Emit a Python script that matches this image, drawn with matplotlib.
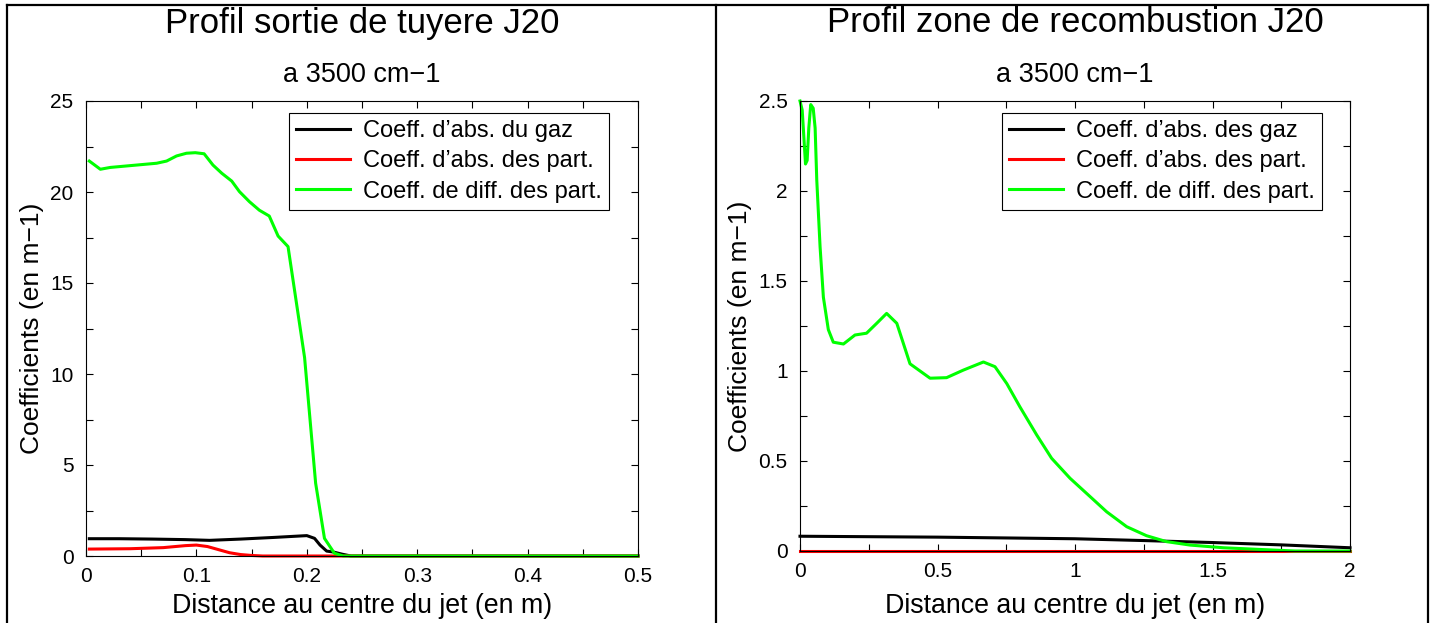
import matplotlib
matplotlib.use('Agg')
from matplotlib import pyplot as plt
from matplotlib.lines import Line2D
from matplotlib.ticker import MultipleLocator, FormatStrFormatter

plt.rcParams['font.family'] = ['Liberation Sans', 'DejaVu Sans']

# Left panel: nozzle exit profile
xl_gaz = [0.003, 0.03, 0.06, 0.09, 0.112, 0.14, 0.17, 0.2, 0.207, 0.212, 0.218, 0.224, 0.232, 0.24, 0.3, 0.4, 0.5]
yl_gaz = [0.95, 0.95, 0.93, 0.9, 0.86, 0.93, 1.02, 1.12, 0.97, 0.6, 0.27, 0.22, 0.1, 0.0, 0.0, 0.0, 0.0]
xl_part = [0.003, 0.04, 0.07, 0.09, 0.1, 0.11, 0.12, 0.13, 0.14, 0.15, 0.16, 0.5]
yl_part = [0.38, 0.4, 0.46, 0.57, 0.6, 0.52, 0.35, 0.18, 0.08, 0.03, 0.0, 0.0]
xl_diff = [0.003, 0.013, 0.022, 0.064, 0.073, 0.082, 0.091, 0.099, 0.107, 0.115, 0.123, 0.132,
           0.139, 0.148, 0.157, 0.166, 0.174, 0.183, 0.198, 0.208, 0.216, 0.225, 0.233, 0.5]
yl_diff = [21.7, 21.25, 21.35, 21.58, 21.7, 21.98, 22.13, 22.16, 22.1, 21.48, 21.03, 20.6,
           20.02, 19.47, 19.0, 18.68, 17.58, 17.0, 10.9, 4.0, 0.97, 0.15, 0.0, 0.0]

# Right panel: afterburning zone profile
xr_gaz = [0.0, 0.5, 1.0, 1.25, 1.5, 1.75, 2.0]
yr_gaz = [0.082, 0.077, 0.068, 0.058, 0.047, 0.034, 0.018]
xr_part = [0.0, 2.0]
yr_part = [0.0, 0.0]
xr_diff = [0.0, 0.008, 0.02, 0.026, 0.032, 0.039, 0.048, 0.055, 0.061, 0.073, 0.085, 0.103, 0.121,
           0.158, 0.2, 0.242, 0.279, 0.315, 0.352, 0.4, 0.473, 0.533, 0.594, 0.667, 0.709, 0.752,
           0.8, 0.861, 0.915, 0.982, 1.055, 1.115, 1.188, 1.26, 1.333, 1.418, 1.54, 1.71, 1.8, 2.0]
yr_diff = [2.5, 2.45, 2.15, 2.17, 2.35, 2.48, 2.46, 2.35, 2.06, 1.69, 1.41, 1.23, 1.16,
           1.15, 1.2, 1.21, 1.265, 1.32, 1.265, 1.04, 0.96, 0.963, 1.005, 1.05, 1.024, 0.93,
           0.8, 0.644, 0.515, 0.404, 0.302, 0.218, 0.135, 0.085, 0.052, 0.033, 0.018, 0.006, 0.0, 0.0]

W, H = 1431, 623
fig = plt.figure(figsize=(W / 100, H / 100), dpi=100)

def px(x0, y0, x1, y1):
    return [x0 / W, 1 - y1 / H, (x1 - x0) / W, (y1 - y0) / H]

panels = [
    dict(rect=px(86, 101, 638, 556), xs=(xl_gaz, xl_part, xl_diff), ys=(yl_gaz, yl_part, yl_diff),
         xlim=0.5, xmaj=0.1, xmin=0.05, ylim=25, ymaj=5, ymin=2.5,
         title='Profil sortie de tuyere J20', gaz='Coeff. d\u2019abs. du gaz',
         leg=((609 - 86) / 552, (556 - 113) / 455), ylab_x=32),
    dict(rect=px(800, 101, 1350, 551), xs=(xr_gaz, xr_part, xr_diff), ys=(yr_gaz, yr_part, yr_diff),
         xlim=2, xmaj=0.5, xmin=0.25, ylim=2.5, ymaj=0.5, ymin=0.25,
         title='Profil zone de recombustion J20', gaz='Coeff. d\u2019abs. des gaz',
         leg=((1322 - 800) / 550, (551 - 113) / 450), ylab_x=740),
]

for p in panels:
    ax = fig.add_axes(p['rect'])
    labels = [p['gaz'], 'Coeff. d\u2019abs. des part.', 'Coeff. de diff. des part.']
    for x, y, c, lab in zip(p['xs'], p['ys'], ['black', '#ff0000', '#00ff00'], labels):
        ax.plot(x, y, color=c, lw=2.2, label=lab, clip_on=False)
    ax.set_xlim(0, p['xlim'])
    ax.set_ylim(0, p['ylim'])
    ax.xaxis.set_major_locator(MultipleLocator(p['xmaj']))
    ax.xaxis.set_minor_locator(MultipleLocator(p['xmin']))
    ax.yaxis.set_major_locator(MultipleLocator(p['ymaj']))
    ax.yaxis.set_minor_locator(MultipleLocator(p['ymin']))
    ax.xaxis.set_major_formatter(FormatStrFormatter('%g'))
    ax.yaxis.set_major_formatter(FormatStrFormatter('%g'))
    ax.tick_params(which='both', direction='in', top=True, right=True, length=5, width=0.8,
                   labelsize=15)
    ax.tick_params(axis='x', pad=8)
    ax.tick_params(axis='y', pad=9)
    for s in ax.spines.values():
        s.set_linewidth(0.8)
    leg = ax.legend(loc='upper right', bbox_to_anchor=p['leg'], borderaxespad=0, fontsize=17,
                    handlelength=2.3, handletextpad=0.55, labelspacing=0.35, borderpad=0.3,
                    fancybox=False, framealpha=1)
    leg.get_frame().set_edgecolor('black')
    leg.get_frame().set_linewidth(0.8)

    r = p['rect']
    cx = r[0] + r[2] / 2
    fig.text(cx, 1 - 23 / H, p['title'], ha='center', va='center', fontsize=25)
    fig.text(cx, 1 - 75 / H, 'a 3500 cm\u22121', ha='center', va='center', fontsize=19.5)
    fig.text(cx, 1 - 606 / H, 'Distance au centre du jet (en m)', ha='center', va='center',
             fontsize=19.3)
    fig.text(p['ylab_x'] / W, r[1] + r[3] / 2, 'Coefficients (en m\u22121)', ha='center',
             va='center', rotation=90, fontsize=19)

# panel frames
for xs, ys in [([7, 7], [5, H]), ([716, 716], [5, H]), ([1428, 1428], [5, H]), ([7, 1428], [5, 5])]:
    fig.add_artist(Line2D([v / W for v in xs], [1 - v / H for v in ys], color='black', lw=1.6))

fig.savefig('out.png', dpi=100)
